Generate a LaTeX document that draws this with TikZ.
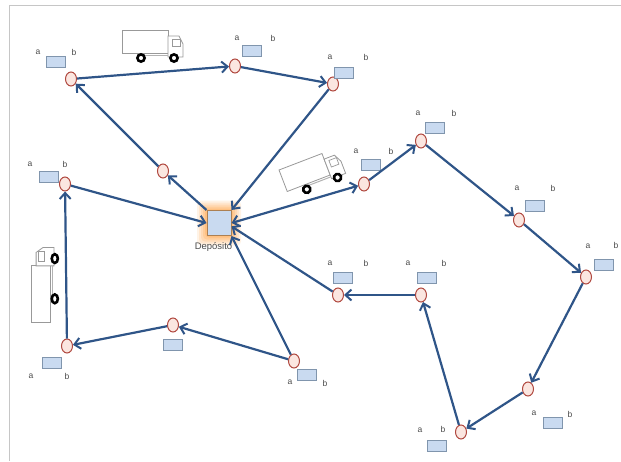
\documentclass[tikz,border=0pt]{standalone}
\usepackage{fontspec}
\setmainfont{Liberation Sans}
\usetikzlibrary{arrows.meta,shapes.geometric}
\definecolor{ruta}{HTML}{2F5588}
\definecolor{caja}{HTML}{C9DAF0}
\definecolor{cajaborde}{HTML}{8095AD}
\definecolor{rojo}{HTML}{B0483F}
\definecolor{rosa}{HTML}{FBE6E0}
\definecolor{letra}{HTML}{4A4A4A}
\tikzset{
	parada/.style={ellipse, draw=rojo, fill=rosa, line width=1pt, minimum width=11pt, minimum height=14pt, inner sep=0pt},
	cajita/.style={rectangle, draw=cajaborde, fill=caja, line width=0.9pt, minimum width=19pt, minimum height=11pt, inner sep=0pt},
	letrero/.style={text=letra, font=\fontsize{8.5}{10}\selectfont, inner sep=0pt},
	ruta/.style={draw=ruta, line width=2.2pt, -{Straight Barb[length=6pt,width=11pt,line width=2pt]}},
	ruta2/.style={draw=ruta, line width=2.2pt, {Straight Barb[length=6pt,width=11pt,line width=2pt]}-{Straight Barb[length=6pt,width=11pt,line width=2pt]}}
}
\def\cliente(#1)(#2)(#3)(#4)(#5){
	\node[parada] (#1) at (#2) {};
	\node[cajita] (#1c) at (#3) {};
	\node[letrero] (#1a) at (#4) {a};
	\node[letrero] (#1b) at (#5) {b};
}
\def\camion[#1]{
	\begin{scope}[#1]
		\draw[gray!80, line width=0.8pt, fill=white] (0, 0) rectangle (46, 23);
		\draw[gray!80, line width=0.8pt, fill=white] (46, 6) -- (57, 6) -- (61, 14) -- (61, 27) -- (46, 27) -- cycle;
		\draw[gray!80, line width=0.7pt] (50, 9) rectangle (58, 16);
		\draw[gray!60, line width=1pt] (22, 25) -- (46, 25);
		\draw[black, line width=2.6pt, fill=white] (19, 28) circle (3.6);
		\draw[black, line width=2.6pt, fill=white] (52, 28) circle (3.6);
	\end{scope}
}

\begin{document}
\begin{tikzpicture}[x=1pt, y=-1pt]
	\useasboundingbox (0, 0) rectangle (621, 461);
	\draw[gray!45, line width=1pt] (621, 5) -- (9.5, 5) -- (9.5, 461);

	\camion[shift={(122, 30)}];
	\camion[shift={(279, 170)}, rotate=21];
	\camion[shift={(31, 322)}, rotate=90, xscale=1.22, yscale=0.85];

	\foreach \g/\o in {10/0.12, 8/0.14, 6/0.16, 4/0.2, 2/0.25}
		\fill[orange!80!white, opacity=\o, rounded corners=4pt] (219-12-\g, 223-12.5-\g) rectangle (219+12+\g, 223+12.5+\g);
	\node[rectangle, draw=brown!70!gray, fill=caja, line width=1pt, minimum width=24pt, minimum height=25pt, inner sep=0pt] (dep) at (219, 223) {};
	\node[letrero, font=\fontsize{9.5}{11}\selectfont] (deplabel) at (213.5, 247) {Depósito};

	\cliente(c1)(71, 79)(56, 62)(38, 52)(74, 52)
	\cliente(c2)(235, 66)(252, 51)(237, 38)(273, 38)
	\cliente(c3)(333, 84)(344, 73)(330, 57)(366, 57)
	\cliente(c5)(65, 184)(49, 177)(30, 164)(65, 164)
	\cliente(c6)(364, 184)(371, 165)(356, 151)(391, 151)
	\cliente(c7)(421, 141)(435, 128)(418, 113)(454, 113)
	\cliente(c8)(519, 220)(535, 206)(517, 188)(553, 188)
	\cliente(c9)(586, 277)(604, 265)(588, 246)(616, 245)
	\cliente(c10)(528, 389)(553, 423)(534, 413)(570, 414)
	\cliente(c11)(461, 432)(437, 446)(420, 430)(443, 429)
	\cliente(c12)(421, 295)(427, 278)(408, 263)(444, 263)
	\cliente(c13)(338, 295)(343, 278)(330, 263)(366, 263)
	\cliente(c14)(294, 361)(307, 375)(290, 382)(325, 383)
	\cliente(c16)(67, 346)(52, 363)(31, 376)(67, 376)
	\node[parada] (c4) at (163, 171) {};
	\node[parada] (c15) at (173, 325) {};
	\node[cajita] (c15c) at (173, 345) {};

	\draw[ruta] (c1) -- (c2);
	\draw[ruta] (c2) -- (c3);
	\draw[ruta] (c3) -- (dep.north east);
	\draw[ruta] (dep.north west) -- (c4);
	\draw[ruta] (c4) -- (c1);
	\draw[ruta] (c5) -- (dep.west);
	\draw[ruta2] (dep.east) -- (c6);
	\draw[ruta] (c6) -- (c7);
	\draw[ruta] (c7) -- (c8);
	\draw[ruta] (c8) -- (c9);
	\draw[ruta] (c9) -- (c10);
	\draw[ruta] (c10) -- (c11);
	\draw[ruta] (c11) -- (c12);
	\draw[ruta] (c12) -- (c13);
	\draw[ruta] (c13) -- (dep.-15);
	\draw[ruta] (c14) -- (dep.south east);
	\draw[ruta] (c14) -- (c15);
	\draw[ruta] (c15) -- (c16);
	\draw[ruta] (c16) -- (c5);
\end{tikzpicture}
\end{document}
